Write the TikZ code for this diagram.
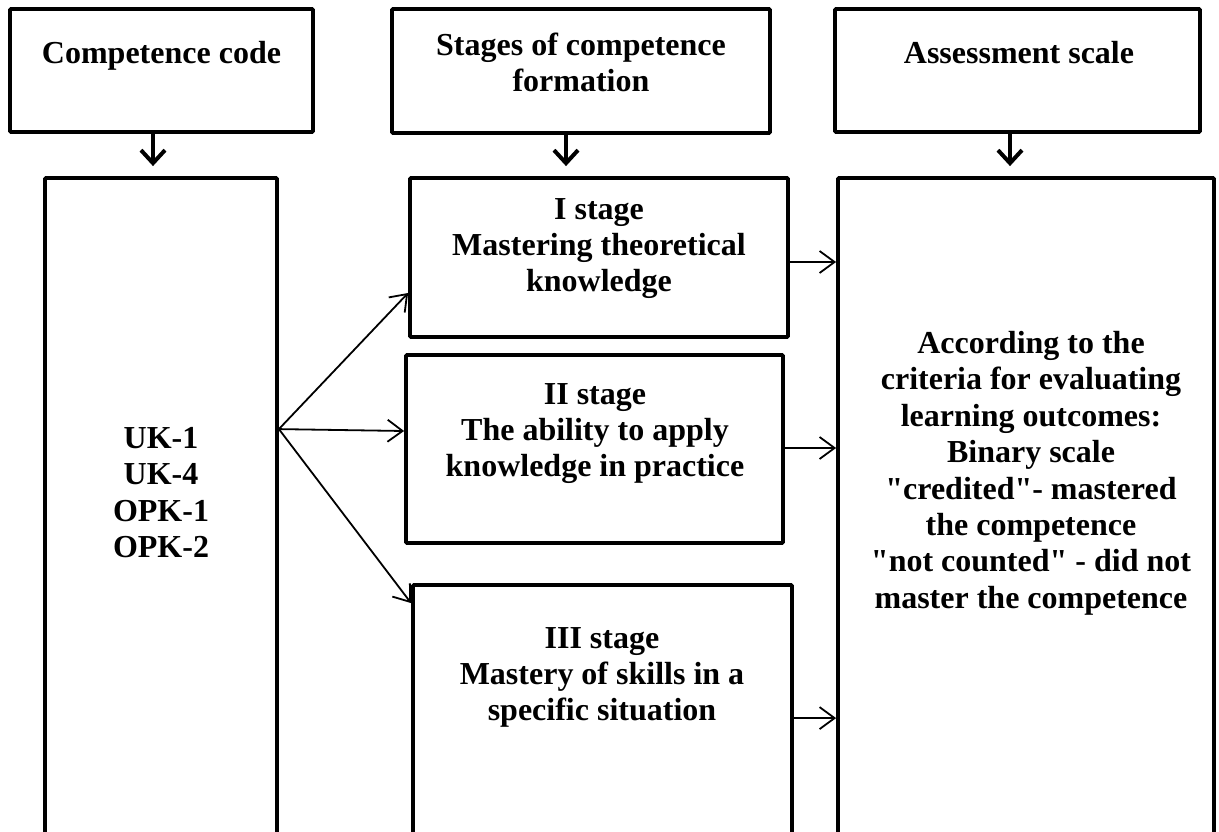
\documentclass[tikz,border=0pt]{standalone}
\usepackage{fontspec}
\setmainfont{Liberation Serif}
\usetikzlibrary{arrows.meta}
\begin{document}
\begin{tikzpicture}[x=1pt,y=-1pt,
  boxnode/.style={draw, line width=3.8pt, rounded corners=1pt, rectangle, inner sep=0pt},
  txt/.style={inner sep=0pt, anchor=north, align=center, font=\bfseries\fontsize{32}{36.4}\selectfont},
  downarr/.style={line width=4pt, -{Straight Barb[length=13pt,width=24pt]}},
  thinarr/.style={line width=1.8pt, -{Straight Barb[length=15pt,width=22pt]}}]
\useasboundingbox (0,0) rectangle (1219,832);
\clip (0,0) rectangle (1219,832);
% top boxes
\node[boxnode, minimum width=303pt, minimum height=123pt] (A) at (161.5,70.5) {};
\node[boxnode, minimum width=378pt, minimum height=124pt] (B) at (581,71) {};
\node[boxnode, minimum width=365pt, minimum height=123pt] (C) at (1017.5,70.5) {};
% lower boxes
\node[boxnode, minimum width=232pt, minimum height=722pt] (L) at (161,539) {};
\node[boxnode, minimum width=378pt, minimum height=159pt] (S1) at (599,257.5) {};
\node[boxnode, minimum width=377pt, minimum height=188pt] (S2) at (594.5,449) {};
\node[boxnode, minimum width=379pt, minimum height=315pt] (S3) at (602.5,742.5) {};
\node[boxnode, minimum width=376pt, minimum height=722pt] (R) at (1026,539) {};
% texts
\node[txt] (tA) at (161.5,41) {Competence code};
\node[txt] (tB) at (581,32.5) {Stages of competence\\formation};
\node[txt] (tC) at (1019,41) {Assessment scale};
\node[txt] (tL) at (161,427) {UK-1\\UK-4\\OPK-1\\OPK-2};
\node[txt] (t1) at (599,198) {I stage\\Mastering theoretical\\knowledge};
\node[txt] (t2) at (595,383) {II stage\\The ability to apply\\knowledge in practice};
\node[txt] (t3) at (602,627) {III stage\\Mastery of skills in a\\specific situation};
\node[txt] (tR) at (1031,331) {According to the\\criteria for evaluating\\learning outcomes:\\Binary scale\\\textquotedbl credited\textquotedbl- mastered\\the competence\\\textquotedbl not counted\textquotedbl{} - did not\\master the competence};
% down arrows
\draw[downarr, shorten >=10pt] ([xshift=-8.5pt]A.south) -- ([xshift=-8.5pt]A.south |- L.north);
\draw[downarr, shorten >=10pt] ([xshift=-15pt]B.south) -- ([xshift=-15pt]B.south |- S1.north);
\draw[downarr, shorten >=10pt] ([xshift=-7.5pt]C.south) -- ([xshift=-7.5pt]C.south |- R.north);
% fan-out arrows
\coordinate (hub) at ([yshift=-253pt]L.north east);
\draw[thinarr] (hub) -- ([yshift=-35.5pt]S1.west);
\draw[thinarr] (hub) -- ([yshift=18pt]S2.west);
\draw[thinarr] (hub) -- ([yshift=-20pt]S3.north west);
% to assessment
\draw[thinarr] ([yshift=-4.5pt]S1.east) -- ([yshift=-4.5pt]S1.east -| R.west);
\draw[thinarr] ([yshift=1pt]S2.east) -- ([yshift=1pt]S2.east -| R.west);
\draw[thinarr] ([yshift=-135pt]S3.north east) -- ([yshift=-135pt]S3.north east -| R.west);
\end{tikzpicture}
\end{document}
